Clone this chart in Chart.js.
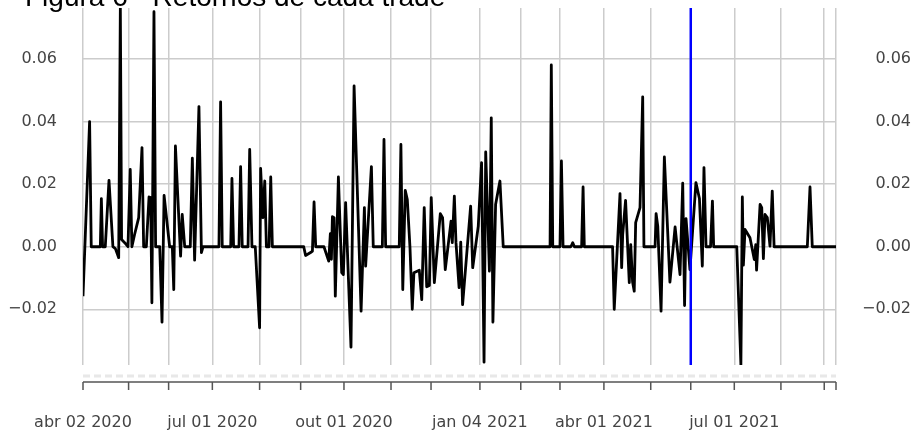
<!DOCTYPE html>
<html>
<head>
<meta charset="utf-8">
<script src="https://cdn.jsdelivr.net/npm/chart.js@4.4.0/dist/chart.umd.min.js"></script>
<style>
  html, body { margin: 0; padding: 0; background: #fff; }
  #wrap { width: 911px; height: 433px; }
</style>
</head>
<body>
<div id="wrap"><canvas id="chart" width="911" height="433"></canvas></div>
<script>
const titleText = 'Figura 6 - Retornos de cada trade';

// position of each point, in trading days since abr 02 2020
const tradeIdx = [
  0, 3.2, 4.0, 8.4, 8.9, 9.5, 10.8, 12.6, 14.5, 15.7, 17.3, 18.1, 18.7, 20.2, 21.8, 22.9, 23.7,
  25.0, 27.0, 28.6, 29.4, 30.7, 32.0, 32.8, 33.4, 34.4, 35.2, 37.2, 38.3, 39.3, 42.0, 43.3,
  44.0, 44.8, 47.3, 48.1, 49.3, 52.0, 53.0, 54.1, 56.2, 57.4, 58.2, 65.9, 66.7, 67.5, 71.6,
  72.2, 73.0, 75.6, 76.4, 77.2, 80.0, 80.8, 81.9, 83.5, 85.6, 86.1, 87.2, 88.1, 88.9, 90.2,
  91.0, 91.8, 107.0, 107.9, 110.7, 111.2, 112.0, 112.8, 116.8, 119.1, 119.9, 120.4, 120.9,
  121.7, 122.3, 123.8, 125.4, 126.2, 127.3, 129.9, 131.4, 134.8, 136.4, 137.0, 139.8, 140.7,
  145.1, 145.9, 146.7, 153.3, 154.1, 155.0, 156.2, 157.2, 158.5, 159.6, 160.4, 163.0, 164.2,
  165.4, 166.6, 167.9, 168.8, 170.3, 173.2, 174.3, 175.6, 178.4, 179.0, 180.0, 180.8, 182.3,
  183.1, 184.0, 187.9, 188.9, 191.6, 193.2, 194.4, 195.2, 197.0, 197.9, 198.7, 200.0, 202.1,
  203.7, 226.4, 227.0, 227.7, 231.2, 231.9, 232.7, 236.5, 237.4, 238.2, 241.7, 242.4, 243.0,
  256.7, 257.5, 260.3, 261.1, 261.6, 263.0, 264.8, 265.5, 266.4, 267.2, 267.9, 270.0, 271.3,
  271.9, 277.3, 277.8, 278.6, 280.2, 281.8, 284.5, 287.0, 289.4, 290.7, 291.6, 292.3, 294.2,
  297.1, 298.8, 300.2, 301.0, 302.0, 304.2, 305.1, 305.7, 316.9, 318.9, 319.6, 320.1, 320.9,
  323.3, 325.4, 326.1, 326.5, 328.2, 329.0, 329.8, 330.6, 331.7, 333.0, 334.1, 335.0, 351.1,
  352.4, 353.5, 365
];
const tradeRet = [
  -0.0158, 0.0400, 0, 0, 0.0154, 0, 0, 0.0212, 0, -0.0006, -0.0035, 0.0763, 0.0023, 0.0013, 0, 0.0247, 0,
  0.0039, 0.0093, 0.0317, 0, 0, 0.0159, 0.0157, -0.0179, 0.0751, 0, 0, -0.0241, 0.0164, 0, 0,
  -0.0137, 0.0322, -0.0030, 0.0103, 0, 0, 0.0283, -0.0043, 0.0448, -0.0019, 0, 0, 0.0463, 0, 0,
  0.0218, 0, 0, 0.0256, 0, 0, 0.0311, 0, 0, -0.0259, 0.0250, 0.0093, 0.0210, 0, 0,
  0.0223, 0, 0, -0.0028, -0.0017, -0.0014, 0.0143, 0, 0, -0.0046, 0.0042, -0.0040, 0.0096,
  0.0093, -0.0158, 0.0223, -0.0083, -0.0089, 0.0141, -0.0321, 0.0514, -0.0206, 0.0125, -0.0062, 0.0256, 0,
  0, 0.0343, 0, 0, 0.0327, -0.0137, 0.0180, 0.0151, -0.0003, -0.0200, -0.0083, -0.0075, -0.0169,
  0.0125, -0.0128, -0.0124, 0.0157, -0.0115, 0.0106, 0.0093, -0.0073, 0.0082, 0.0013, 0.0162, 0.0013, -0.0131,
  0.0015, -0.0185, 0.0130, -0.0067, 0.0066, 0.0269, -0.0369, 0.0303, -0.0078, 0.0412, -0.0241, 0.0135, 0.0210,
  0, 0, 0.0581, 0, 0, 0.0274, 0, 0, 0.0013, 0, 0, 0.0191, 0,
  0, -0.0200, 0.0170, -0.0067, 0.0039, 0.0148, -0.0115, 0.0007, -0.0113, -0.0142, 0.0077, 0.0125, 0.0479,
  0, 0, 0.0106, 0.0066, -0.0206, 0.0287, -0.0113, 0.0063, -0.0089, 0.0203, -0.0188, 0.0090, -0.0073,
  0.0205, 0.0154, -0.0062, 0.0253, 0, 0, 0.0146, 0, 0, -0.0377, 0.0159, -0.0059, 0.0055,
  0.0029, -0.0041, 0.0007, -0.0075, 0.0135, 0.0125, -0.0038, 0.0103, 0.0093, 0.0002, 0.0178, 0, 0,
  0.0191, 0, 0
];

// month ticks (trading-day index) and their labels
const tickIdx = [0, 22.1, 41.5, 62.7, 85.6, 105.5, 126.5, 149.3, 168.7, 192.4, 212.2, 231.2,
  252.5, 275.2, 294.6, 315.7, 338.3, 359.3, 365];
const tickLabels = ['abr 02 2020', '', '', 'jul 01 2020', '', '', 'out 01 2020', '', '', 'jan 04 2021',
  '', '', 'abr 01 2021', '', '', 'jul 01 2021', '', '', ''];
const yTicks = [-0.02, 0, 0.02, 0.04, 0.06];
const yMin = -0.0378;
const yMax = 0.0763;
const lastIdx = 365;
const splitIdx = 294.6;

const points = tradeIdx.map((x, i) => ({ x: x, y: tradeRet[i] }));
const fmtY = v => v.toFixed(2).replace('-', '\u2212');
const labelFont = { family: 'DejaVu Sans', size: 16 };

// fixed box sizes, no extra label padding from Chart.js
const fixBox = (w, h) => s => {
  if (w != null) s.width = w;
  if (h != null) s.height = h;
  s.paddingLeft = 0; s.paddingRight = 0; s.paddingTop = 0; s.paddingBottom = 0;
};

const decorations = {
  id: 'decorations',
  afterDatasetsDraw(chart) {
    const { ctx, chartArea, scales } = chart;
    const bx = scales.x.getPixelForValue(splitIdx);
    ctx.save();
    ctx.strokeStyle = '#0000ff';
    ctx.lineWidth = 2.5;
    ctx.beginPath();
    ctx.moveTo(bx, chartArea.top);
    ctx.lineTo(bx, chartArea.bottom);
    ctx.stroke();
    ctx.restore();
  },
  afterDraw(chart) {
    const { ctx, chartArea, scales } = chart;
    const xs = scales.x;
    const x0 = xs.getPixelForValue(0), x1 = xs.getPixelForValue(lastIdx);
    ctx.save();
    // faint dashed strip under the plot
    ctx.strokeStyle = '#e8e8e8';
    ctx.lineWidth = 3;
    ctx.setLineDash([7, 4]);
    ctx.beginPath();
    ctx.moveTo(x0, chartArea.bottom + 11);
    ctx.lineTo(x1, chartArea.bottom + 11);
    ctx.stroke();
    ctx.setLineDash([]);
    // axis line with month ticks
    const ay = chartArea.bottom + 17;
    ctx.strokeStyle = '#555';
    ctx.lineWidth = 1.5;
    ctx.beginPath();
    ctx.moveTo(x0, ay);
    ctx.lineTo(x1, ay);
    tickIdx.forEach(v => {
      const px = xs.getPixelForValue(v);
      ctx.moveTo(px, ay);
      ctx.lineTo(px, ay + 8);
    });
    ctx.stroke();
    // title, cut off at the top edge
    ctx.fillStyle = '#000';
    ctx.font = '28px "Liberation Sans"';
    ctx.textAlign = 'left';
    ctx.textBaseline = 'alphabetic';
    ctx.fillText(titleText, 25, 6);
    ctx.restore();
  }
};

new Chart(document.getElementById('chart'), {
  type: 'line',
  data: {
    datasets: [{
      data: points,
      borderColor: '#000',
      borderWidth: 2.8,
      borderJoinStyle: 'round',
      pointRadius: 0,
      tension: 0,
      fill: false
    }]
  },
  options: {
    responsive: false,
    animation: false,
    events: [],
    layout: { padding: { top: 8, left: 0, right: 0, bottom: 0 } },
    plugins: { legend: { display: false }, tooltip: { enabled: false } },
    scales: {
      x: {
        type: 'linear',
        min: 0,
        max: lastIdx,
        afterBuildTicks: s => { s.ticks = tickIdx.map(v => ({ value: v })); },
        afterFit: fixBox(null, 68),
        grid: { color: '#cccccc', lineWidth: 1.5, drawTicks: false },
        border: { display: false },
        ticks: {
          autoSkip: false,
          maxRotation: 0,
          padding: 48,
          color: '#444',
          font: labelFont,
          callback: (v, i) => tickLabels[i]
        }
      },
      y: {
        position: 'left',
        min: yMin,
        max: yMax,
        afterBuildTicks: s => { s.ticks = yTicks.map(v => ({ value: v })); },
        afterFit: fixBox(83, null),
        grid: { color: '#cccccc', lineWidth: 1.5, drawTicks: false },
        border: { display: false },
        ticks: { padding: 26, color: '#444', font: labelFont, callback: v => fmtY(v) }
      },
      y2: {
        position: 'right',
        min: yMin,
        max: yMax,
        afterBuildTicks: s => { s.ticks = yTicks.map(v => ({ value: v })); },
        afterFit: fixBox(75, null),
        grid: { display: false, drawTicks: false },
        border: { display: false },
        ticks: { padding: 7, crossAlign: 'far', color: '#444', font: labelFont, callback: v => fmtY(v) }
      }
    }
  },
  plugins: [decorations]
});
</script>
</body>
</html>
